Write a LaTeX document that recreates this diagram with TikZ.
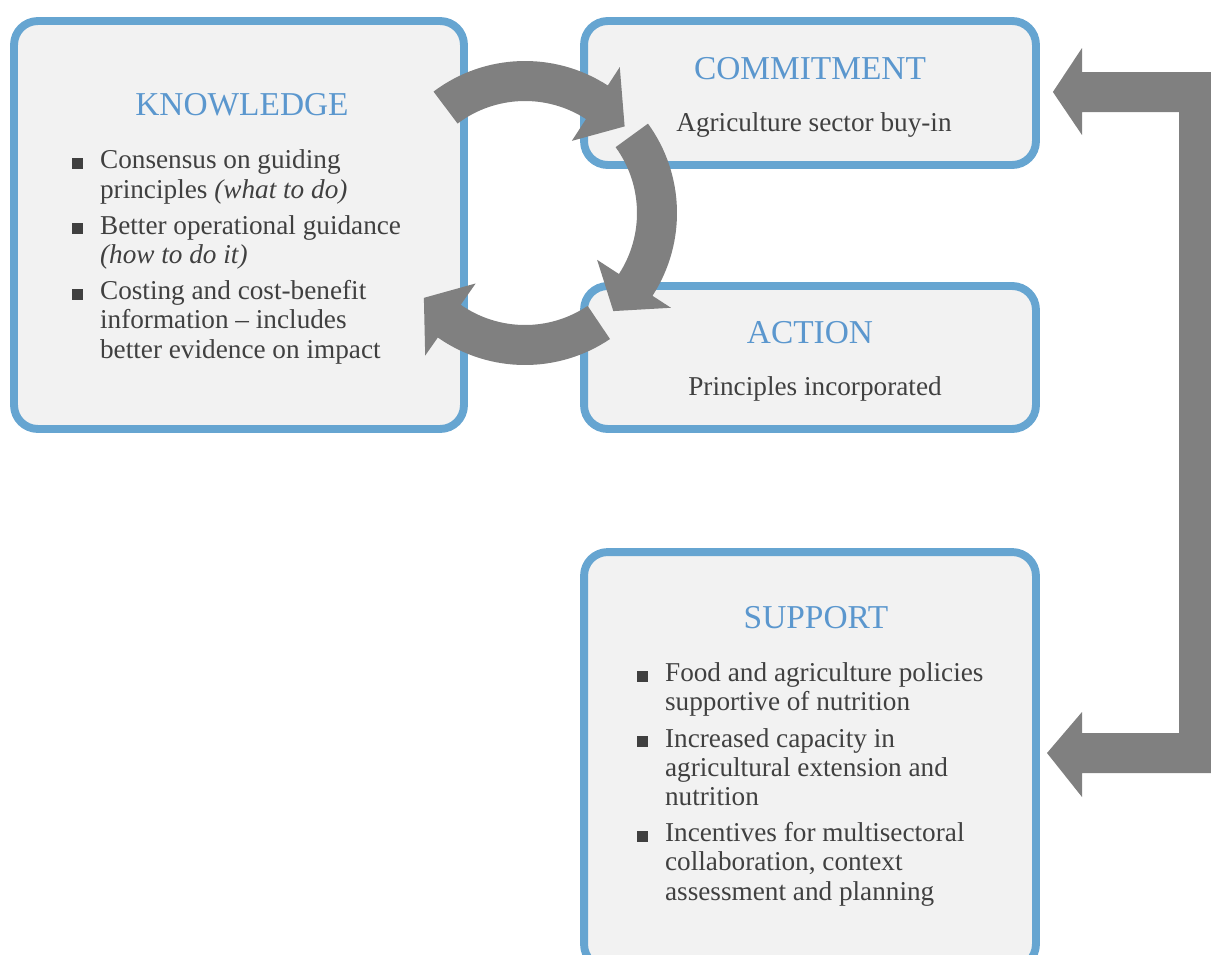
\documentclass[tikz,border=0pt]{standalone}
\usepackage{fontspec}
\setmainfont{Liberation Serif}
\definecolor{boxblue}{HTML}{66A5D1}
\definecolor{titleblue}{HTML}{5B97CE}
\definecolor{boxfill}{HTML}{F2F2F2}
\definecolor{arrowgray}{HTML}{808080}
\definecolor{textgray}{HTML}{404040}
\begin{document}
\begin{tikzpicture}[x=0.02cm,y=-0.02cm,line join=miter,
	panel/.style={draw=boxblue,fill=boxfill,line width=4.5pt,rounded corners=13.5pt,inner sep=0pt},
	head/.style={text=titleblue,font=\fontsize{19pt}{22pt}\selectfont,anchor=base,inner sep=0pt},
	body/.style={text=textgray,font=\fontsize{15.5pt}{16.6pt}\selectfont,align=left,inner sep=0pt}]
		\clip (0,0) rectangle (1211,954);
		\def\sqb{\rule{6.2pt}{6.2pt}\hspace{9.6pt}}
		\def\ind{\hspace*{15.8pt}}
		\def\ringarrow#1#2#3{\fill[arrowgray] (#1:152) arc[start angle=#1,end angle=#2,radius=152] -- (#2:174) -- (#3:132) -- (#2:86) -- (#2:112) arc[start angle=#2,end angle=#1,radius=112] -- cycle;}
		
		\node[panel,minimum width=9cm,minimum height=8.16cm] (know) at (239,225) {};
		\node[panel,minimum width=9.04cm,minimum height=2.88cm] (commit) at (810,93) {};
		\node[panel,minimum width=9.04cm,minimum height=2.86cm] (action) at (810,357.5) {};
		\node[panel,minimum width=9.04cm,minimum height=8.32cm] (support) at (810,760) {};
		
		\node[head] (knowtitle) at (242,115) {KNOWLEDGE};
		\node[body,anchor=base west] (knowtxt) at (72,358) {\sqb Consensus on guiding\\\ind principles \textit{(what to do)}\\[4pt]\sqb Better operational guidance\\\ind \textit{(how to do it)}\\[4pt]\sqb Costing and cost-benefit\\\ind information -- includes\\\ind better evidence on impact};
		\node[head] (committitle) at (810,79) {COMMITMENT};
		\node[body,anchor=base] (committxt) at (814,131) {Agriculture sector buy-in};
		\node[head] (actiontitle) at (810,343) {ACTION};
		\node[body,anchor=base] (actiontxt) at (815,395) {Principles incorporated};
		\node[head] (supporttitle) at (816,628) {SUPPORT};
		\node[body,anchor=base west] (supporttxt) at (637,900) {\sqb Food and agriculture policies\\\ind supportive of nutrition\\[4pt]\sqb Increased capacity in\\\ind agricultural extension and\\\ind nutrition\\[4pt]\sqb Incentives for multisectoral\\\ind collaboration, context\\\ind assessment and planning};
		
		\begin{scope}[shift={(525,213)},yscale=-1]
		\ringarrow{127}{57}{41}
		\ringarrow{36}{-33}{-48}
		\ringarrow{-56}{-125}{-140}
		\end{scope}
		
		\coordinate (tipA) at ([xshift=0.26cm,yshift=0.02cm]commit.east);
		\coordinate (tipB) at (1047,753);
		\fill[arrowgray] (tipA) -- (1082,48) -- (1082,72) -- (1219,72) -- (1219,773) -- (1082,773) -- (1082,797) -- (tipB) -- (1082,712) -- (1082,733) -- (1179,733) -- (1179,112) -- (1082,112) -- (1082,135) -- cycle;
		\end{tikzpicture}
\end{document}
